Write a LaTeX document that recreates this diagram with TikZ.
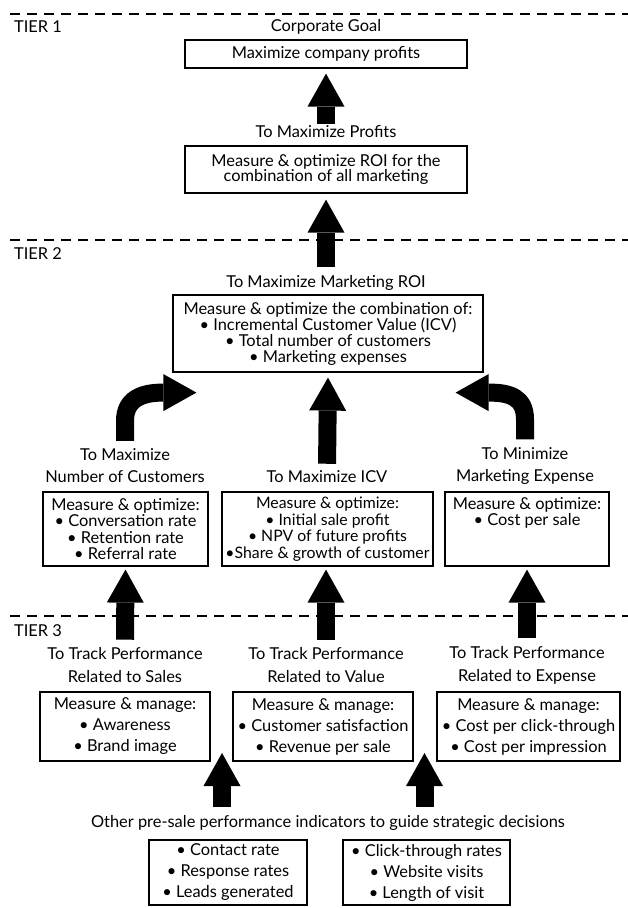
\documentclass[tikz,border=0pt]{standalone}
\usepackage{fontspec}
\setmainfont{Lato}
\usetikzlibrary{arrows.meta,positioning}
\tikzset{
    tierline/.style={line width=1.4pt, dash pattern=on 10pt off 7pt},
    plainbox/.style={draw, line width=1.2pt, align=center, inner sep=0pt},
    heading/.style={align=center, inner sep=2pt},
    fatarrow/.style={line width=18pt, -{Triangle[width=37pt,length=33pt,line width=0pt]}},
}
\newcommand{\boxlines}[1]{\fontsize{16.4}{#1}\selectfont}
\begin{document}
\begin{tikzpicture}[x=1pt, y=-1pt, font=\fontsize{16.4}{18}\selectfont]
    \useasboundingbox (0,0) rectangle (628,908);
    \foreach \y/\ly/\t in {14/27/1, 240/254/2, 616/631/3}
    {
        \draw[tierline] (10,\y) -- (628,\y);
        \node[anchor=west, inner sep=0pt] (tier\t) at (14,\ly) {TIER \t};
    }

    % tier 1
    \node[heading] (goal) at (326,27) {Corporate Goal};
    \node[plainbox, minimum width=282pt, minimum height=28pt] (profitbox) at (326,54) {Maximize company profits};
    \node[heading] (profits) at (326,132) {To Maximize Profits};
    \node[plainbox, minimum width=282pt, minimum height=47pt, font=\boxlines{15.5}] (roibox) at (326,169.5)
        {Measure \& optimize ROI for the\\combination of all marketing};

    % tier 2
    \node[heading] (mroi) at (326,283) {To Maximize Marketing ROI};
    \node[plainbox, minimum width=310pt, minimum height=77pt, font=\boxlines{16}] (mroibox) at (328,333.5)
        {Measure \& optimize the combination of:\\• Incremental Customer Value (ICV)\\• Total number of customers\\• Marketing expenses};
    \node[heading, font=\boxlines{22}] (custhead) at (125,466) {To Maximize\\Number of Customers};
    \node[heading] (icvhead) at (327,477) {To Maximize ICV};
    \node[heading, font=\boxlines{22}] (exphead) at (525,466) {To Minimize\\Marketing Expense};
    \node[plainbox, minimum width=165pt, minimum height=74pt, font=\boxlines{16.5}] (custbox) at (125.5,529)
        {Measure \& optimize:\\• Conversation rate\\• Retention rate\\• Referral rate};
    \node[plainbox, minimum width=211pt, minimum height=74pt, font=\fontsize{15.8}{16.5}\selectfont] (icvbox) at (327.5,529)
        {Measure \& optimize:\\• Initial sale profit\\• NPV of future profits\\•Share \& growth of customer};
    \node[plainbox, minimum width=164pt, minimum height=74pt, font=\boxlines{16.5}] (expbox) at (527,529)
        {\parbox[c][64pt][t]{150pt}{\centering Measure \& optimize:\\• Cost per sale}};
    \coordinate (lefttip) at ([xshift=24pt,yshift=-20pt]mroibox.south west);
    \coordinate (righttip) at ([xshift=-28pt,yshift=-20pt]mroibox.south east);

    % tier 3
    \node[heading, font=\boxlines{23}] (trackS) at (125,665.5) {To Track Performance\\Related to Sales};
    \node[heading, font=\boxlines{23}] (trackV) at (326,665.5) {To Track Performance\\Related to Value};
    \node[heading, font=\boxlines{23}] (trackE) at (527,665.5) {To Track Performance\\Related to Expense};
    \node[plainbox, minimum width=170pt, minimum height=69pt, font=\boxlines{21}] (salesbox) at (125,726.5)
        {Measure \& manage:\\• Awareness\\• Brand image};
    \node[plainbox, minimum width=180pt, minimum height=69pt, font=\boxlines{21}] (valuebox) at (323,726.5)
        {Measure \& manage:\\• Customer satisfaction\\• Revenue per sale};
    \node[plainbox, minimum width=183pt, minimum height=69pt, font=\boxlines{21}] (expensebox) at (528.5,726.5)
        {Measure \& manage:\\• Cost per click-through\\• Cost per impression};
    \node[heading] (other) at (328,823) {Other pre-sale performance indicators to guide strategic decisions};
    \node[plainbox, minimum width=158pt, minimum height=65pt, font=\boxlines{21}] (contactbox) at (228,872.5)
        {• Contact rate\\• Response rates\\• Leads generated};
    \node[plainbox, minimum width=167pt, minimum height=65pt, font=\boxlines{21}] (clickbox) at (426.5,872.5)
        {• Click-through rates\\• Website visits\\• Length of visit};
    \coordinate (gapA) at (222,753);
    \coordinate (gapB) at (424.5,753);

    % arrows
    \draw[fatarrow] (profits.north) -- ([yshift=-5pt]profitbox.south);
    \draw[fatarrow, shorten <=6pt] (mroi.north) -- ([yshift=-6pt]roibox.south);
    \draw[fatarrow, shorten <=5pt] (icvhead.north) -- ([yshift=-5pt]mroibox.south);
    \draw[fatarrow] ([yshift=6pt]custhead.north) -- ++(0,-20) .. controls ++(0,-22) and ++(-20,0) .. ([xshift=-34pt]lefttip) -- (lefttip);
    \draw[fatarrow] ([yshift=6pt]exphead.north) -- ++(0,-20) .. controls ++(0,-22) and ++(20,0) .. ([xshift=34pt]righttip) -- (righttip);
    \draw[fatarrow, shorten <=6pt] (trackS.north) -- ([yshift=-3pt]custbox.south);
    \draw[fatarrow, shorten <=6pt] (trackV.north) -- ([yshift=-3pt]icvbox.south -| trackV.north);
    \draw[fatarrow, shorten <=6pt] (trackE.north) -- ([yshift=-3pt]expbox.south -| trackE.north);
    \draw[fatarrow, shorten <=6pt] (gapA |- other.north) -- (gapA);
    \draw[fatarrow, shorten <=6pt] (gapB |- other.north) -- (gapB);
\end{tikzpicture}
\end{document}
